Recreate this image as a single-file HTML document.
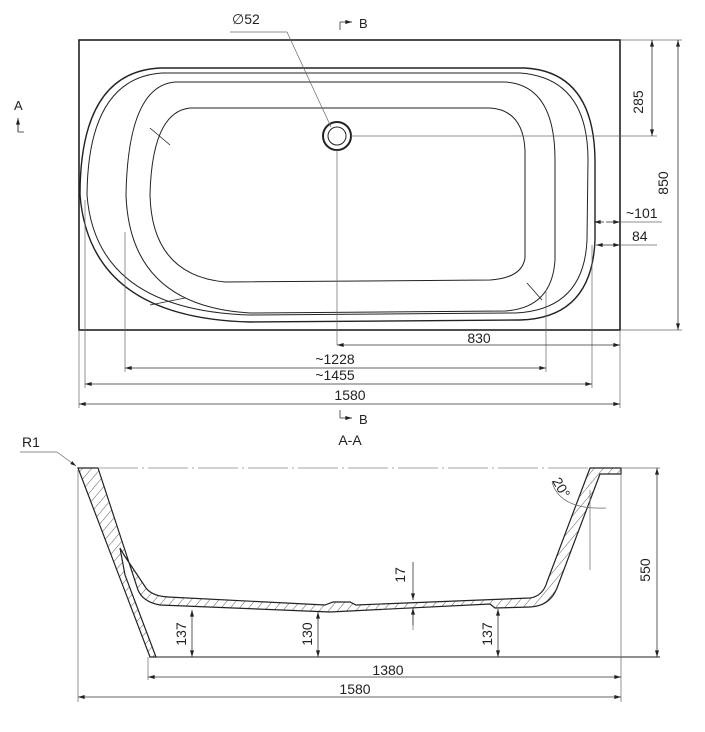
<!DOCTYPE html>
<html><head><style>body{margin:0;background:#fff}svg{display:block}text{font-family:"Liberation Sans",sans-serif;fill:#222}</style></head><body>
<svg width="705" height="732" viewBox="0 0 705 732" xmlns="http://www.w3.org/2000/svg">
<defs>
<pattern id="h" width="7" height="7" patternUnits="userSpaceOnUse" patternTransform="rotate(40)"><line x1="0" y1="0" x2="0" y2="7" stroke="#333" stroke-width="0.8"/></pattern>
<marker id="a" viewBox="0 0 10 6" refX="10" refY="3" markerWidth="9" markerHeight="5" orient="auto-start-reverse"><path d="M0,0L10,3L0,6z" fill="#222"/></marker>
</defs>
<g fill="none" stroke="#222">
<rect x="79" y="40" width="541" height="290" stroke-width="1.6"/>
<path d="M160,68 L525,68 Q594,72 595,160 L595,240 Q592,318 520,320 L250,322 Q90,318 80,195 Q80,72 160,68Z" stroke-width="1.4"/>
<path d="M162,73 L520,73 Q588,78 588,160 L587,240 Q584,310 515,313 L250,315 Q96,310 87,195 Q88,78 162,73Z" stroke-width="1"/>
<path d="M175,82 L505,82 Q555,85 555,160 L555,260 Q552,308 505,311 L250,313 Q130,306 126,195 Q128,86 175,82Z" stroke-width="1"/>
<path d="M190,108 L490,108 Q523,110 525,150 L525,258 Q522,278 490,280 L225,282 Q152,275 150,195 Q152,112 190,108Z" stroke-width="1"/>
<line x1="150" y1="128" x2="170" y2="145" stroke-width="0.8"/>
<line x1="527" y1="283" x2="542" y2="300" stroke-width="0.8"/>
<line x1="150" y1="305" x2="185" y2="298" stroke-width="0.8"/>
<circle cx="337" cy="136" r="14" stroke-width="2"/>
<circle cx="337" cy="136" r="9" stroke-width="1"/>
<g stroke="#666" stroke-width="0.7">
<line x1="337" y1="150" x2="337" y2="345"/>
<line x1="351" y1="136" x2="657" y2="136"/>
<line x1="621" y1="40" x2="682" y2="40"/>
<line x1="621" y1="330" x2="682" y2="330"/>
<line x1="125" y1="232" x2="125" y2="372"/>
<line x1="546" y1="290" x2="546" y2="372"/>
<line x1="85" y1="200" x2="85" y2="388"/>
<line x1="592" y1="245" x2="592" y2="388"/>
<line x1="79" y1="330" x2="79" y2="408"/>
<line x1="620" y1="330" x2="620" y2="408"/>
<line x1="230" y1="32" x2="287" y2="32"/>
<line x1="287" y1="32" x2="331" y2="127"/>
<line x1="620" y1="222" x2="662" y2="222"/>
<line x1="620" y1="245" x2="657" y2="245"/>
</g>
<g stroke="#333" stroke-width="0.8">
<line x1="652" y1="40" x2="652" y2="136" marker-start="url(#a)" marker-end="url(#a)"/>
<line x1="678" y1="40" x2="678" y2="330" marker-start="url(#a)" marker-end="url(#a)"/>
<line x1="337" y1="345" x2="620" y2="345" marker-start="url(#a)" marker-end="url(#a)"/>
<line x1="125" y1="368" x2="546" y2="368" marker-start="url(#a)" marker-end="url(#a)"/>
<line x1="85" y1="384" x2="592" y2="384" marker-start="url(#a)" marker-end="url(#a)"/>
<line x1="79" y1="404" x2="620" y2="404" marker-start="url(#a)" marker-end="url(#a)"/>
<line x1="594" y1="222" x2="604" y2="222" marker-end="url(#a)" transform="rotate(180 599 222)"/>
<line x1="606" y1="222" x2="620" y2="222" marker-end="url(#a)"/>
<line x1="596" y1="245" x2="608" y2="245" transform="rotate(180 602 245)" marker-end="url(#a)"/>
<line x1="608" y1="245" x2="620" y2="245" marker-end="url(#a)"/>
<line x1="340" y1="22" x2="340" y2="30"/><line x1="340" y1="22" x2="352" y2="22" marker-end="url(#a)"/>
<line x1="340" y1="410" x2="340" y2="418"/><line x1="340" y1="418" x2="352" y2="418" marker-end="url(#a)"/>
<line x1="18" y1="122" x2="18" y2="132"/><line x1="18" y1="132" x2="24" y2="132"/><line x1="18" y1="132" x2="18" y2="118" marker-end="url(#a)"/>
</g>
<path d="M78,468 L150,657 L156,657 L125,575 L120,548 L124,555 L146,588 Q152,596 168,597 L325,605 L333,602 L350,602 L356,605 L530,598 Q543,596 547,582 L590,468 L621,468 L621,474 L600,474 L557,588 Q550,606 530,607 L495,608 L490,604 L330,612 L160,605 Q143,602 138,590 L98,468 Z" fill="url(#h)" stroke-width="1.2"/>
<line x1="98" y1="468" x2="590" y2="468" stroke="#888" stroke-width="0.8" stroke-dasharray="40 4 2 4"/>
<line x1="156" y1="657" x2="660" y2="657" stroke-width="1"/>
<g stroke="#666" stroke-width="0.7">
<line x1="621" y1="468" x2="660" y2="468"/>
<line x1="148" y1="657" x2="148" y2="680"/>
<line x1="78" y1="470" x2="78" y2="702"/>
<line x1="621" y1="475" x2="621" y2="702"/>
<line x1="590" y1="490" x2="590" y2="570"/>
<line x1="413" y1="612" x2="413" y2="630"/>
<line x1="20" y1="452" x2="57" y2="452"/>
<line x1="57" y1="452" x2="76" y2="466" marker-end="url(#a)"/>
<path d="M552,482 Q560,510 606,508"/>
</g>
<g stroke="#333" stroke-width="0.8">
<line x1="657" y1="468" x2="657" y2="657" marker-start="url(#a)" marker-end="url(#a)"/>
<line x1="148" y1="677" x2="621" y2="677" marker-start="url(#a)" marker-end="url(#a)"/>
<line x1="78" y1="697" x2="621" y2="697" marker-start="url(#a)" marker-end="url(#a)"/>
<line x1="192" y1="610" x2="192" y2="657" marker-start="url(#a)" marker-end="url(#a)"/>
<line x1="318" y1="612" x2="318" y2="657" marker-start="url(#a)" marker-end="url(#a)"/>
<line x1="498" y1="609" x2="498" y2="657" marker-start="url(#a)" marker-end="url(#a)"/>
<line x1="413" y1="562" x2="413" y2="600" marker-end="url(#a)"/>
<line x1="413" y1="625" x2="413" y2="608" marker-end="url(#a)"/>
</g>
</g>
<g font-size="14">
<text x="232" y="24">∅52</text>
<text x="359" y="28" font-size="13">B</text>
<text x="359" y="424" font-size="13">B</text>
<text x="14" y="110" font-size="13">A</text>
<text x="643" y="102" transform="rotate(-90 643 102)" text-anchor="middle">285</text>
<text x="668" y="183" transform="rotate(-90 668 183)" text-anchor="middle">850</text>
<text x="626" y="218">~101</text>
<text x="632" y="241">84</text>
<text x="479" y="343" text-anchor="middle">830</text>
<text x="335" y="364" text-anchor="middle">~1228</text>
<text x="335" y="380" text-anchor="middle">~1455</text>
<text x="350" y="400" text-anchor="middle">1580</text>
<text x="22" y="447">R1</text>
<text x="350" y="445" text-anchor="middle">A-A</text>
<text x="650" y="570" transform="rotate(-90 650 570)" text-anchor="middle">550</text>
<text x="388" y="675" text-anchor="middle">1380</text>
<text x="355" y="694" text-anchor="middle">1580</text>
<text x="186" y="634" transform="rotate(-90 186 634)" text-anchor="middle">137</text>
<text x="312" y="634" transform="rotate(-90 312 634)" text-anchor="middle">130</text>
<text x="492" y="634" transform="rotate(-90 492 634)" text-anchor="middle">137</text>
<text x="405" y="575" transform="rotate(-90 405 575)" text-anchor="middle">17</text>
<text x="557" y="490" transform="rotate(60 557 490)" text-anchor="middle">20°</text>
</g>
</svg>
</body></html>
